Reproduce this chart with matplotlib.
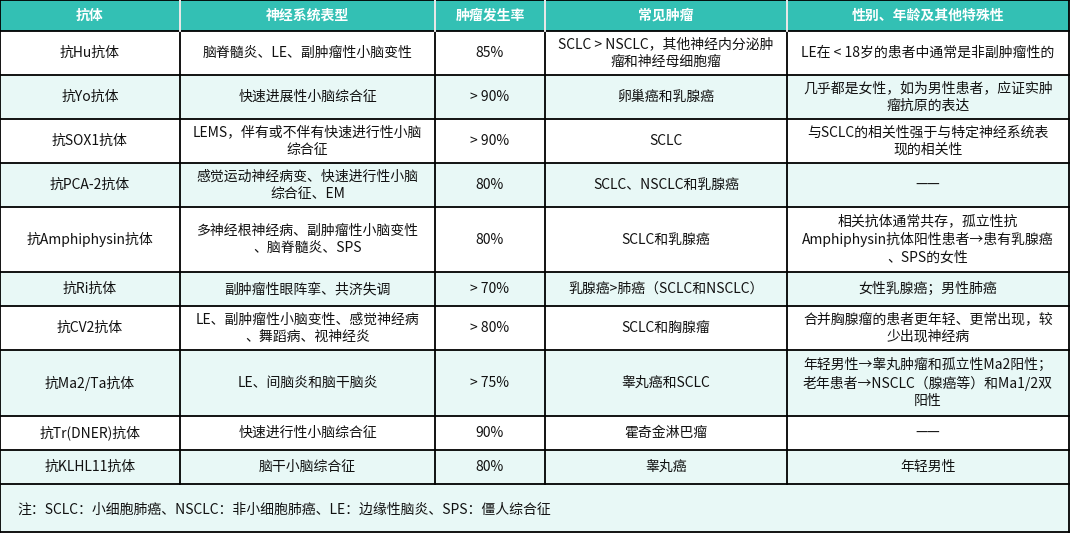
import matplotlib
matplotlib.use("Agg")
import matplotlib.pyplot as plt
from matplotlib.patches import Rectangle

plt.rcParams["font.family"] = ["Noto Sans CJK SC", "DejaVu Sans"]

headers = ["抗体", "神经系统表型", "肿瘤发生率", "常见肿瘤", "性别、年龄及其他特殊性"]
antibodies = ["抗Hu抗体", "抗Yo抗体", "抗SOX1抗体", "抗PCA-2抗体", "抗Amphiphysin抗体",
              "抗Ri抗体", "抗CV2抗体", "抗Ma2/Ta抗体", "抗Tr(DNER)抗体", "抗KLHL11抗体"]
phenotypes = ["脑脊髓炎、LE、副肿瘤性小脑变性", "快速进展性小脑综合征",
              "LEMS，伴有或不伴有快速进行性小脑\n综合征", "感觉运动神经病变、快速进行性小脑\n综合征、EM",
              "多神经根神经病、副肿瘤性小脑变性\n、脑脊髓炎、SPS", "副肿瘤性眼阵挛、共济失调",
              "LE、副肿瘤性小脑变性、感觉神经病\n、舞蹈病、视神经炎", "LE、间脑炎和脑干脑炎",
              "快速进行性小脑综合征", "脑干小脑综合征"]
incidence = ["85%", "> 90%", "> 90%", "80%", "80%", "> 70%", "> 80%", "> 75%", "90%", "80%"]
tumors = ["SCLC > NSCLC，其他神经内分泌肿\n瘤和神经母细胞瘤", "卵巢癌和乳腺癌", "SCLC",
          "SCLC、NSCLC和乳腺癌", "SCLC和乳腺癌", "乳腺癌>肺癌（SCLC和NSCLC）",
          "SCLC和胸腺瘤", "睾丸癌和SCLC", "霍奇金淋巴瘤", "睾丸癌"]
special = ["LE在 < 18岁的患者中通常是非副肿瘤性的", "几乎都是女性，如为男性患者，应证实肿\n瘤抗原的表达",
           "与SCLC的相关性强于与特定神经系统表\n现的相关性", "——",
           "相关抗体通常共存，孤立性抗\nAmphiphysin抗体阳性患者→患有乳腺癌\n、SPS的女性",
           "女性乳腺癌；男性肺癌", "合并胸腺瘤的患者更年轻、更常出现，较\n少出现神经病",
           "年轻男性→睾丸肿瘤和孤立性Ma2阳性；\n老年患者→NSCLC（腺癌等）和Ma1/2双\n阳性",
           "——", "年轻男性"]
note = "注：SCLC：小细胞肺癌、NSCLC：非小细胞肺癌、LE：边缘性脑炎、SPS：僵人综合征"

col_edges = [0, 180, 435, 545, 787, 1069]
row_edges = [0, 31, 75, 119, 163, 207, 272, 306, 350, 416, 450, 484, 532]

W, H = 1070, 533
fig = plt.figure(figsize=(W / 100, H / 100), dpi=100)
ax = fig.add_axes([0, 0, 1, 1])
ax.set_xlim(0, W)
ax.set_ylim(H, 0)
ax.axis("off")

green = "#33c0b4"
light = "#e8f8f6"
lw = 1.3

# header
ax.add_patch(Rectangle((0, 0), col_edges[-1], row_edges[1], fc=green, ec="none"))
for j, h in enumerate(headers):
    cx = (col_edges[j] + col_edges[j + 1]) / 2
    ax.text(cx, row_edges[1] / 2, h, ha="center", va="center", color="white",
            fontsize=10, fontweight="bold")

rows = list(zip(antibodies, phenotypes, incidence, tumors, special))
for i, r in enumerate(rows):
    y0, y1 = row_edges[i + 1], row_edges[i + 2]
    if i % 2 == 1:
        ax.add_patch(Rectangle((0, y0), col_edges[-1], y1 - y0, fc=light, ec="none"))
    for j, t in enumerate(r):
        cx = (col_edges[j] + col_edges[j + 1]) / 2
        ax.text(cx, (y0 + y1) / 2, t, ha="center", va="center", color="#111111",
                fontsize=10, linespacing=1.3)

y0, y1 = row_edges[-2], row_edges[-1]
ax.add_patch(Rectangle((0, y0), col_edges[-1], y1 - y0, fc=light, ec="none"))
ax.text(17, (y0 + y1) / 2 + 2, note, ha="left", va="center", color="#111111", fontsize=10)

# grid lines
for y in row_edges:
    ax.plot([0, col_edges[-1]], [y, y], color="black", lw=lw)
for k, x in enumerate(col_edges):
    yb = row_edges[-1] if k in (0, len(col_edges) - 1) else row_edges[-2]
    ax.plot([x, x], [0, yb], color="black", lw=lw)
for x in col_edges[1:-1]:
    ax.plot([x, x], [0, row_edges[1]], color="white", lw=lw)

fig.savefig("out.png", dpi=100)
